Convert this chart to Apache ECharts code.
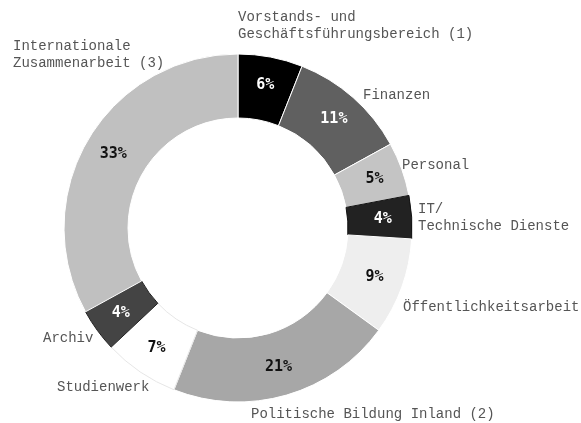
<!DOCTYPE html>
<html>
<head>
<meta charset="utf-8">
<script src="https://cdn.jsdelivr.net/npm/echarts@6/dist/echarts.min.js"></script>
<style>
  html, body { margin: 0; padding: 0; background: #fff; }
  #chart { width: 581px; height: 423px; }
</style>
</head>
<body>
<div id="chart"></div>
<script>
// Bereiche, im Uhrzeigersinn ab 12 Uhr
var categories = [
  "Vorstands- und\nGeschäftsführungsbereich (1)",
  "Finanzen",
  "Personal",
  "IT/\nTechnische Dienste",
  "Öffentlichkeitsarbeit",
  "Politische Bildung Inland (2)",
  "Studienwerk",
  "Archiv",
  "Internationale\nZusammenarbeit (3)"
];
var shares = [6, 11, 5, 4, 9, 21, 7, 4, 33];
var sliceColors = ["#000000", "#606060", "#c4c4c4", "#222222", "#eeeeee", "#a7a7a7", "#ffffff", "#444444", "#c0c0c0"];
var innerTextColors = ["#fff", "#fff", "#111", "#fff", "#111", "#111", "#111", "#fff", "#111"];
var borderColors = ["#fff", "#fff", "#fff", "#111", "#fff", "#fff", "#e6e6e6", "#222", "#fff"];

// Lage der Beschriftungen aussen (linke Kante, Mitte)
var labelAnchors = [
  [238, 26], [363, 95], [402, 165], [418, 218], [403, 307],
  [251, 414], [57, 387], [43, 338], [13, 55]
];

var chart = echarts.init(document.getElementById("chart"));

var sliceData = shares.map(function (v, i) {
  return {
    name: categories[i],
    value: v,
    itemStyle: { color: sliceColors[i], borderColor: borderColors[i], borderWidth: 1 },
    label: { color: innerTextColors[i] }
  };
});

var option = {
  animation: false,
  series: [
    {
      type: "pie",
      center: [238, 228],
      radius: [110, 174],
      startAngle: 90,
      clockwise: true,
      avoidLabelOverlap: false,
      silent: true,
      label: {
        show: true,
        position: "inside",
        formatter: "{c}%",
        fontFamily: "DejaVu Sans Mono",
        fontWeight: "bold",
        fontSize: 15
      },
      labelLine: { show: false },
      data: sliceData
    },
    {
      type: "pie",
      center: [238, 228],
      radius: [110, 174],
      startAngle: 90,
      clockwise: true,
      avoidLabelOverlap: false,
      silent: true,
      itemStyle: { color: "transparent", borderWidth: 0 },
      label: {
        show: true,
        position: "outside",
        formatter: "{b}",
        fontFamily: "Liberation Mono",
        fontSize: 14,
        lineHeight: 17,
        color: "#555"
      },
      labelLine: { show: false },
      labelLayout: function (params) {
        var p = labelAnchors[params.dataIndex];
        return { x: p[0], y: p[1], align: "left", verticalAlign: "middle" };
      },
      data: shares.map(function (v, i) {
        return { name: categories[i], value: v };
      })
    }
  ]
};

chart.setOption(option);
</script>
</body>
</html>
